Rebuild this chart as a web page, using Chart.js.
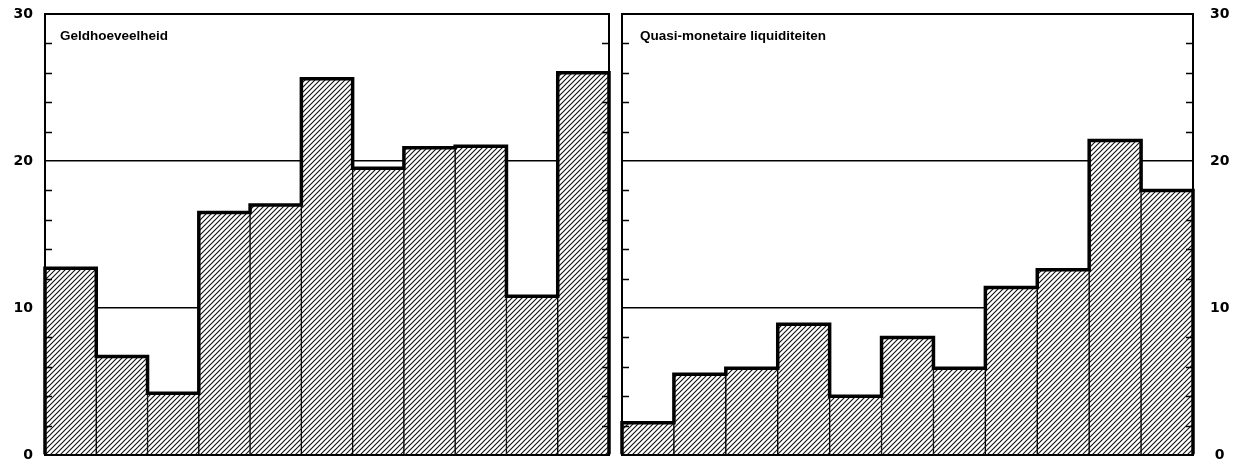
<!DOCTYPE html>
<html>
<head>
<meta charset="utf-8">
<script src="https://cdn.jsdelivr.net/npm/chart.js@4/dist/chart.umd.min.js"></script>
<style>
  html, body { margin: 0; padding: 0; background: #fff; }
  #wrap { position: relative; width: 1246px; height: 463px; }
  canvas { position: absolute; top: 0; }
  #leftChart { left: 0; }
  #rightChart { left: 612px; }
</style>
</head>
<body>
<div id="wrap">
  <canvas id="leftChart" width="612" height="463"></canvas>
  <canvas id="rightChart" width="634" height="463"></canvas>
</div>
<script>
// periods (not labelled in the original)
const periods = ["1", "2", "3", "4", "5", "6", "7", "8", "9", "10", "11"];
const geldhoeveelheid = [12.7, 6.7, 4.2, 16.5, 17.0, 25.6, 19.5, 20.9, 21.0, 10.8, 26.0];
const quasiMonetair = [2.2, 5.5, 5.9, 8.9, 4.0, 8.0, 5.9, 11.4, 12.6, 21.4, 18.0];
const majorTicks = [0, 10, 20, 30];
const minorTicks = [2, 4, 6, 8, 12, 14, 16, 18, 22, 24, 26, 28];

// opaque hatch: white ground with thin "////" lines
function makeHatch() {
  const c = document.createElement("canvas");
  c.width = 5; c.height = 5;
  const g = c.getContext("2d");
  g.fillStyle = "#fff";
  g.fillRect(0, 0, 5, 5);
  g.strokeStyle = "#111";
  g.lineWidth = 1.1;
  g.beginPath();
  g.moveTo(-1, 6); g.lineTo(6, -1);
  g.moveTo(-1, 1); g.lineTo(1, -1);
  g.moveTo(4, 6); g.lineTo(6, 4);
  g.stroke();
  return g.createPattern(c, "repeat");
}
const hatch = makeHatch();

// step outline, panel frame, inner minor ticks and the panel caption
const panelPlugin = {
  id: "panel",
  afterDatasetsDraw(chart, args, opts) {
    const ctx = chart.ctx;
    const a = chart.chartArea;
    const y = chart.scales.y;
    const bars = chart.getDatasetMeta(0).data;
    ctx.save();
    ctx.strokeStyle = "#000";
    ctx.lineWidth = 3.5;
    ctx.lineJoin = "miter";
    ctx.beginPath();
    bars.forEach((b, i) => {
      const l = b.x - b.width / 2, r = b.x + b.width / 2;
      if (i === 0) ctx.moveTo(l, b.base);
      ctx.lineTo(l, b.y);
      ctx.lineTo(r, b.y);
      if (i === bars.length - 1) ctx.lineTo(r, b.base);
    });
    ctx.stroke();

    ctx.lineWidth = 2;
    ctx.strokeRect(a.left, a.top, a.width, a.height);

    ctx.lineWidth = 1.5;
    ctx.beginPath();
    minorTicks.forEach(v => {
      const py = Math.round(y.getPixelForValue(v)) + 0.5;
      ctx.moveTo(a.left, py); ctx.lineTo(a.left + 7, py);
      ctx.moveTo(a.right - 7, py); ctx.lineTo(a.right, py);
    });
    ctx.stroke();

    ctx.fillStyle = "#000";
    ctx.font = "bold 13.5px 'Liberation Sans', sans-serif";
    ctx.textBaseline = "middle";
    ctx.fillText(opts.caption, a.left + opts.captionX, a.top + 22);
    ctx.restore();
  }
};

function panel(id, values, caption, side) {
  const left = side === "left";
  return new Chart(document.getElementById(id), {
    type: "bar",
    data: {
      labels: periods,
      datasets: [{
        data: values,
        backgroundColor: hatch,
        borderColor: "#000",
        borderWidth: { left: 1, right: 1, top: 0, bottom: 0 },
        borderSkipped: false,
        barPercentage: 1,
        categoryPercentage: 1
      }]
    },
    options: {
      responsive: false,
      animation: false,
      devicePixelRatio: 1,
      layout: {
        padding: left ? { top: 14, right: 3, bottom: 8, left: 0 }
                      : { top: 14, right: 0, bottom: 8, left: 10 }
      },
      scales: {
        x: { display: false },
        y: {
          position: side,
          min: 0,
          max: 30,
          afterBuildTicks: s => { s.ticks = majorTicks.map(v => ({ value: v })); },
          afterFit: s => {
            s.width = left ? 45 : 53;
            s.paddingTop = 0;
            s.paddingBottom = 0;
          },
          border: { display: false },
          grid: {
            drawTicks: false,
            lineWidth: 1.5,
            color: c => (c.tick && (c.tick.value === 10 || c.tick.value === 20)) ? "#000" : "rgba(0,0,0,0)"
          },
          ticks: {
            color: "#000",
            crossAlign: left ? "near" : "center",
            padding: left ? 12 : 17,
            font: { family: "'DejaVu Sans', sans-serif", size: 14, weight: "bold" }
          }
        }
      },
      plugins: {
        legend: { display: false },
        tooltip: { enabled: false },
        panel: { caption: caption, captionX: left ? 15 : 18 }
      }
    },
    plugins: [panelPlugin]
  });
}

panel("leftChart", geldhoeveelheid, "Geldhoeveelheid", "left");
panel("rightChart", quasiMonetair, "Quasi-monetaire liquiditeiten", "right");
</script>
</body>
</html>
